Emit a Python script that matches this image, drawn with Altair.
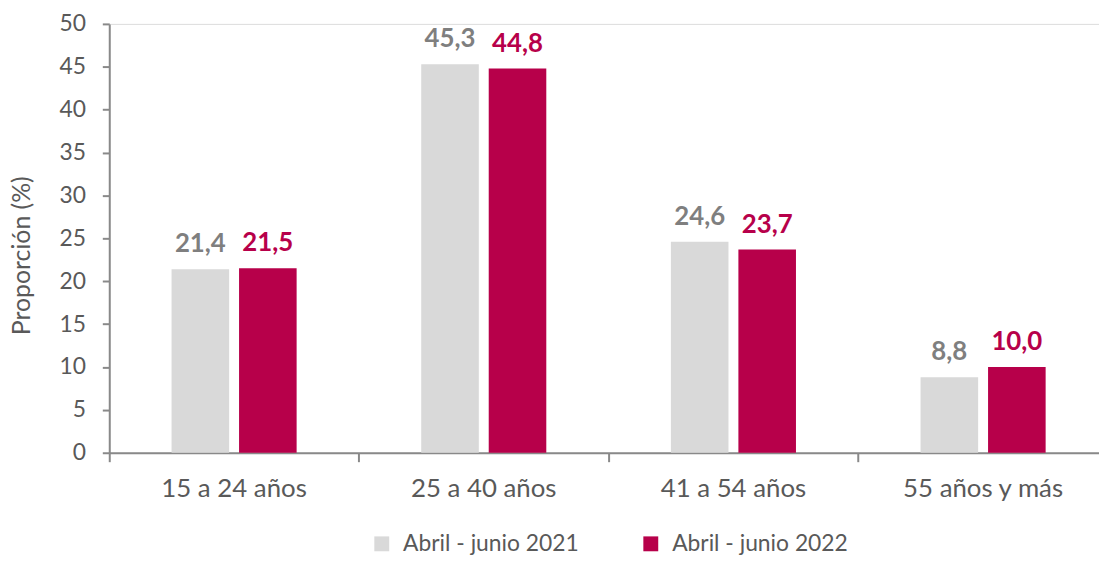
import altair as alt
import pandas as pd

categorias = ["15 a 24 años", "25 a 40 años", "41 a 54 años", "55 años y más"]
series = ["Abril - junio 2021", "Abril - junio 2022"]
valores_2021 = [21.4, 45.3, 24.6, 8.8]
valores_2022 = [21.5, 44.8, 23.7, 10.0]

colores_barra = ["#D9D9D9", "#B7004A"]
colores_texto = ["#7F7F7F", "#B7004A"]

rows = []
for serie, vals in zip(series, [valores_2021, valores_2022]):
    for c, v in zip(categorias, vals):
        rows.append({"cat": c, "serie": serie, "valor": v,
                     "etiqueta": f"{v:.1f}".replace(".", ",")})
df = pd.DataFrame(rows)

FONT = "Lato"
TXT = "#595959"
AX = "#898989"

# plot area runs slightly past the right edge of the page, like the reference
x = alt.X("cat:N", sort=categorias, title=None,
          scale=alt.Scale(paddingInner=0, paddingOuter=0, rangeMax=1006),
          axis=alt.Axis(bandPosition=0, labelAngle=0, tickSize=9, labelPadding=14,
                        labelFontSize=26, labelColor=TXT, labelFont=FONT,
                        domainColor=AX, tickColor=AX, domainWidth=2, tickWidth=2))
xo = alt.XOffset("serie:N", sort=series,
                 scale=alt.Scale(paddingInner=0.147, paddingOuter=0.923))
y = alt.Y("valor:Q", title="Proporción (%)",
          scale=alt.Scale(domain=[0, 50], nice=False),
          axis=alt.Axis(values=list(range(0, 51, 5)), tickSize=7, labelPadding=17,
                        labelFontSize=23, labelColor=TXT, labelFont=FONT,
                        titleFont=FONT, titleFontSize=25, titleFontWeight="normal",
                        titleColor=TXT, titleBaseline="alphabetic",
                        titleX=-80, titleY=233, titleAngle=270,
                        domainColor=AX, tickColor=AX, domainWidth=2, tickWidth=2,
                        grid=False))

bars = alt.Chart(df).mark_bar().encode(
    x=x, xOffset=xo, y=y,
    color=alt.Color("serie:N", sort=series,
                    scale=alt.Scale(domain=series, range=colores_barra),
                    legend=alt.Legend(title=None, orient="none", direction="horizontal",
                                      legendX=263, legendY=512, columns=2,
                                      symbolType="square", symbolSize=225,
                                      symbolStrokeWidth=0, labelOffset=10,
                                      columnPadding=60, padding=0, labelLimit=0,
                                      labelFontSize=23, labelColor=TXT, labelFont=FONT)),
)

labels = alt.Chart(df).mark_text(baseline="alphabetic", dy=-17, font=FONT,
                                 fontSize=26, fontWeight="bold").encode(
    x=x, xOffset=xo, y=y,
    text="etiqueta:N",
    color=alt.Color("serie:N", sort=series,
                    scale=alt.Scale(domain=series, range=colores_texto), legend=None),
)

chart = alt.layer(bars, labels).resolve_scale(color="independent").properties(
    width=997, height=432,
    autosize=alt.AutoSizeParams(type="none"),
    padding={"left": 102, "top": 14, "right": 0, "bottom": 103},
).configure_view(stroke=None).configure(background="white")

chart.save("out.html", embed_options={"renderer": "svg", "actions": False})
